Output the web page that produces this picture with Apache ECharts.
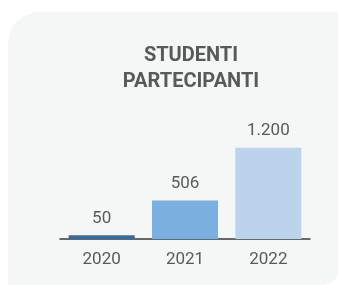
<!DOCTYPE html>
<html><head><meta charset="utf-8">
<script src="https://cdn.jsdelivr.net/npm/echarts@6/dist/echarts.min.js"></script>
<style>html,body{margin:0;padding:0;background:#fff}#c{width:338px;height:285px}</style>
</head><body><div id="c"></div>
<script>
const categories = ['2020', '2021', '2022'];
const values = [50, 506, 1200];
const valueLabels = ['50', '506', '1.200'];
const barColors = ['#3b6a99', '#7aafdf', '#bcd3ec'];
const titleLines = ['STUDENTI', 'PARTECIPANTI'];

const chart = echarts.init(document.getElementById('c'), null, {renderer: 'canvas'});
chart.setOption({
  animation: false,
  backgroundColor: '#ffffff',
  graphic: [{
    type: 'rect', z: -10, silent: true,
    shape: {x: 8, y: 12, width: 332, height: 273, r: [32, 0, 18, 0]},
    style: {fill: '#f5f6f6'}
  }],
  title: {
    text: titleLines.join('\n'),
    left: 186, top: 38, textAlign: 'center',
    textStyle: {fontFamily: 'Roboto', fontWeight: 'bold', fontSize: 20, color: '#58595b', lineHeight: 26}
  },
  grid: {left: 60, right: 28, top: 102, bottom: 46, containLabel: false},
  xAxis: {
    type: 'category', data: categories,
    axisLine: {lineStyle: {color: '#3a3a3a', width: 1.5}},
    axisTick: {show: false},
    axisLabel: {margin: 12, color: '#58595b', fontSize: 17, fontFamily: 'Roboto'}
  },
  yAxis: {type: 'value', min: 0, max: 1800, show: false, splitLine: {show: false}},
  series: [{
    type: 'bar', barWidth: 66,
    data: values.map((v, i) => ({value: v, itemStyle: {color: barColors[i]}})),
    label: {
      show: true, position: 'top', distance: 8,
      color: '#58595b', fontSize: 17, fontFamily: 'Roboto',
      formatter: p => valueLabels[p.dataIndex]
    }
  }]
});
</script></body></html>
